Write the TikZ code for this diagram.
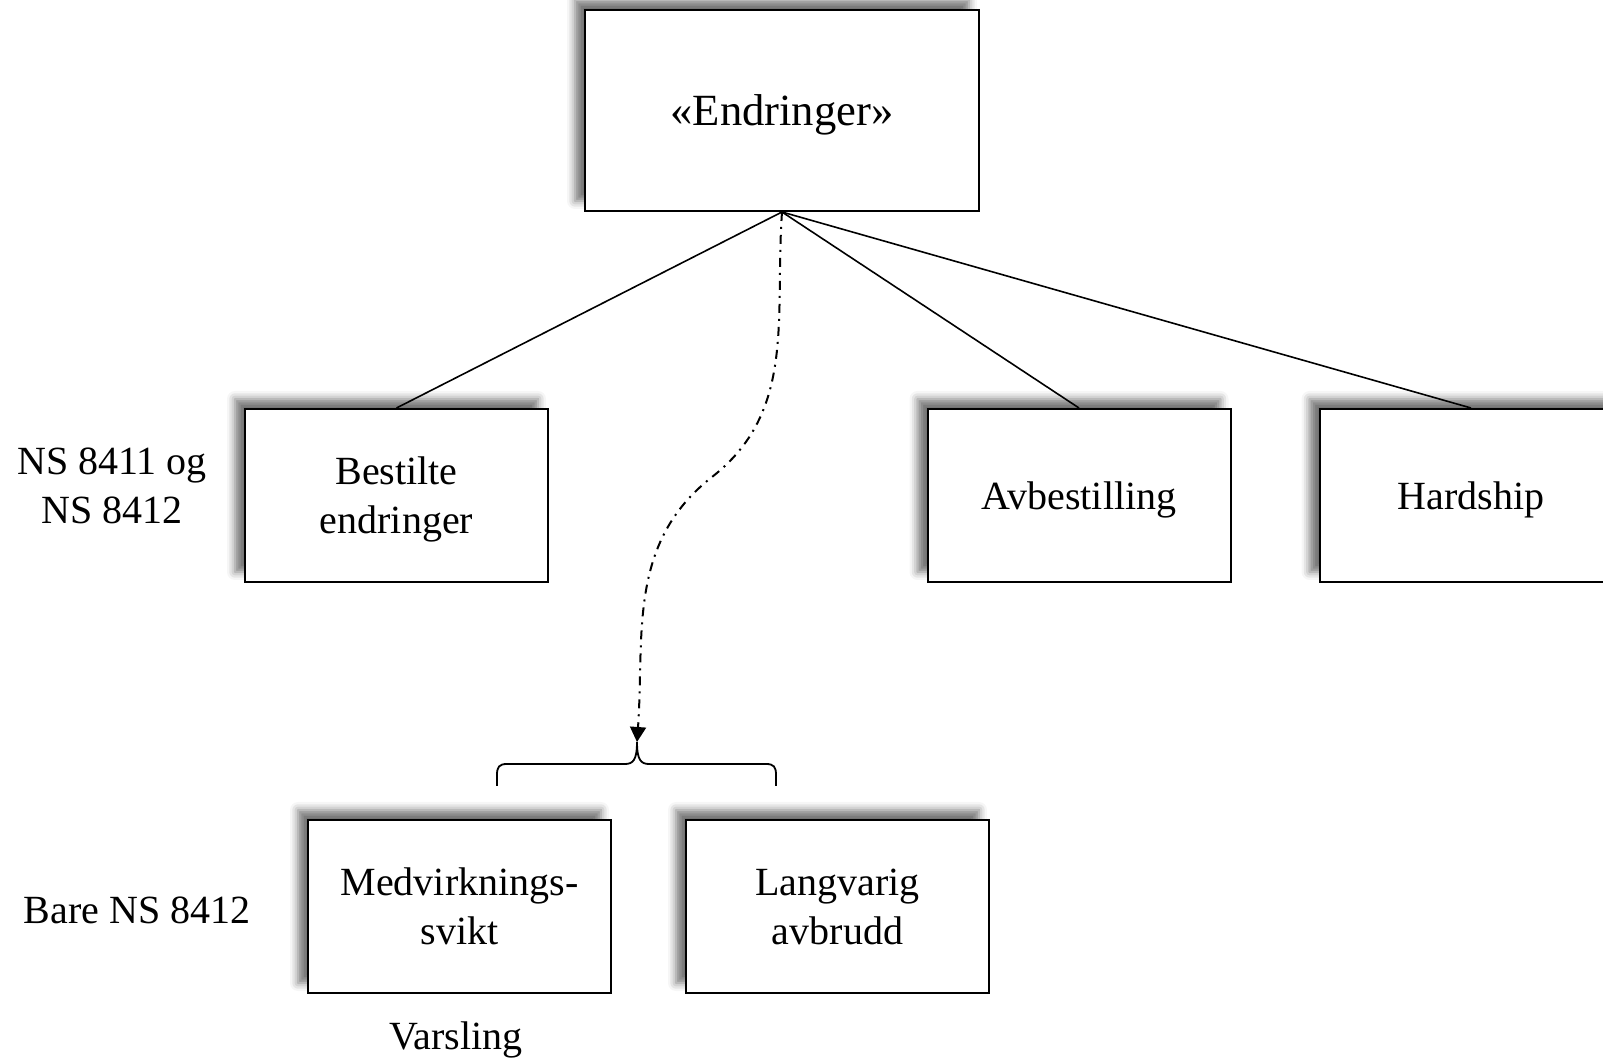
\documentclass[tikz,border=0pt]{standalone}
\usepackage{fontspec}
\setmainfont{Liberation Serif}
\usetikzlibrary{positioning,arrows.meta,shadows.blur}
\tikzset{
  kat/.style  ={draw=black, line width=1pt, fill=white, align=center, inner sep=0pt,
                minimum width=151.5pt, minimum height=86.5pt, text depth=0pt,
                font=\fontsize{20}{24.5}\selectfont,
                blur shadow={shadow xshift=-5pt, shadow yshift=5pt,
                             shadow blur radius=4pt, shadow opacity=55}},
  topkat/.style={kat, minimum width=197pt, minimum height=100.5pt,
                font=\fontsize{22.3}{26}\selectfont},
  lbl/.style  ={align=center, inner sep=0pt, font=\fontsize{20}{24.5}\selectfont},
  ln/.style   ={draw=black, line width=0.8pt},
  dd/.style   ={-{Triangle[length=7.5pt,width=8pt]}, draw=black, line width=1pt,
                dash pattern=on 4.5pt off 3pt on 1pt off 3pt},
  brc/.style  ={draw=black, line width=0.9pt},
}
\begin{document}
\begin{tikzpicture}[x=0.5pt,y=0.5pt]
\useasboundingbox (0,0) rectangle (1603,1062);
\node[topkat] (endr) at (782,951.5) {«Endringer»};

\node[kat] (best) at (396.5,566.5) {Bestilte\\ endringer};
\node[kat] (avb)  at (1079,566.5) {Avbestilling};
\node[kat] (hard) at (1471,566.5) {Hardship};

\node[kat] (medv) at (459.5,155.5) {Medvirknings-\\ svikt};
\node[kat,right=36.5pt of medv] (lang) {Langvarig\\ avbrudd};

\node[lbl] (ns1)  at (112,576) {NS 8411 og\\ NS 8412};
\node[lbl] (ns2)  at (137,152) {Bare NS 8412};
\node[lbl] (vars) at (456,22) {Varsling};

\draw[ln] (endr.south) -- (best.north);
\draw[ln] (endr.south) -- (avb.north);
\draw[ln] (endr.south) -- (hard.north);

% brace over the two lower boxes
\coordinate (brtip) at (637,320);
\draw[brc] (497,276) -- (497,287) .. controls (497,295) and (499,298) .. (507,298)
  -- (625,298) .. controls (633,298) and (637,302) .. (brtip)
  .. controls (637,302) and (641,298) .. (649,298)
  -- (766,298) .. controls (774,298) and (776,295) .. (776,287) -- (776,276);

\coordinate (bend) at (712,585);
\draw[dd] (endr.south) to[out=-94,in=38] (bend) to[out=218,in=86] (brtip);
\end{tikzpicture}
\end{document}
